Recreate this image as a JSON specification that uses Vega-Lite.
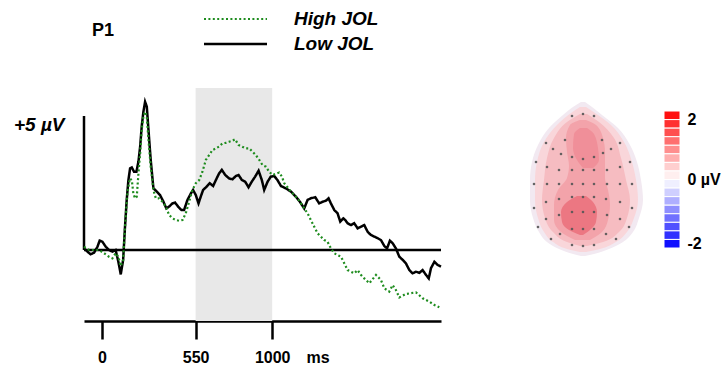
{
  "$schema": "https://vega.github.io/schema/vega-lite/v6.json",
  "padding": {"left": 13, "top": 9, "right": 0, "bottom": 0},
  "background": "white",
  "config": {"font": "Liberation Sans", "view": {"stroke": null}},
  "bounds": "flush",
  "spacing": 10,
  "resolve": {"scale": {"x": "independent", "y": "independent", "color": "independent", "fill": "independent", "strokeDash": "independent", "strokeWidth": "independent"}},
  "datasets": {
    "erp": [
      {"c": "Low JOL", "t": -106, "v": 0.06}, {"c": "Low JOL", "t": -86, "v": -0.06}, {"c": "Low JOL", "t": -67, "v": -0.16}, {"c": "Low JOL", "t": -47, "v": -0.10}, {"c": "Low JOL", "t": -27, "v": 0.12}, {"c": "Low JOL", "t": -14, "v": 0.35}, {"c": "Low JOL", "t": 2, "v": 0.31}, {"c": "Low JOL", "t": 22, "v": 0.12}, {"c": "Low JOL", "t": 41, "v": 0}, {"c": "Low JOL", "t": 61, "v": -0.06}, {"c": "Low JOL", "t": 80, "v": 0}, {"c": "Low JOL", "t": 96, "v": -0.44}, {"c": "Low JOL", "t": 110, "v": -0.91}, {"c": "Low JOL", "t": 124, "v": -0.37}, {"c": "Low JOL", "t": 135, "v": 0.87}, {"c": "Low JOL", "t": 145, "v": 1.87}, {"c": "Low JOL", "t": 155, "v": 2.61}, {"c": "Low JOL", "t": 165, "v": 3.05}, {"c": "Low JOL", "t": 175, "v": 3.08}, {"c": "Low JOL", "t": 188, "v": 2.92}, {"c": "Low JOL", "t": 202, "v": 2.92}, {"c": "Low JOL", "t": 214, "v": 3.30}, {"c": "Low JOL", "t": 224, "v": 3.86}, {"c": "Low JOL", "t": 233, "v": 4.60}, {"c": "Low JOL", "t": 243, "v": 5.16}, {"c": "Low JOL", "t": 253, "v": 5.53}, {"c": "Low JOL", "t": 263, "v": 5.35}, {"c": "Low JOL", "t": 273, "v": 4.48}, {"c": "Low JOL", "t": 286, "v": 3.36}, {"c": "Low JOL", "t": 302, "v": 2.30}, {"c": "Low JOL", "t": 322, "v": 2.18}, {"c": "Low JOL", "t": 341, "v": 2.05}, {"c": "Low JOL", "t": 361, "v": 1.80}, {"c": "Low JOL", "t": 378, "v": 1.55}, {"c": "Low JOL", "t": 394, "v": 1.62}, {"c": "Low JOL", "t": 414, "v": 1.74}, {"c": "Low JOL", "t": 429, "v": 1.77}, {"c": "Low JOL", "t": 447, "v": 1.62}, {"c": "Low JOL", "t": 467, "v": 1.49}, {"c": "Low JOL", "t": 482, "v": 1.49}, {"c": "Low JOL", "t": 502, "v": 1.87}, {"c": "Low JOL", "t": 522, "v": 2.11}, {"c": "Low JOL", "t": 535, "v": 2.24}, {"c": "Low JOL", "t": 551, "v": 2.05}, {"c": "Low JOL", "t": 567, "v": 1.74}, {"c": "Low JOL", "t": 580, "v": 1.99}, {"c": "Low JOL", "t": 594, "v": 2.24}, {"c": "Low JOL", "t": 614, "v": 2.36}, {"c": "Low JOL", "t": 633, "v": 2.49}, {"c": "Low JOL", "t": 653, "v": 2.39}, {"c": "Low JOL", "t": 669, "v": 2.61}, {"c": "Low JOL", "t": 688, "v": 2.86}, {"c": "Low JOL", "t": 704, "v": 2.99}, {"c": "Low JOL", "t": 724, "v": 2.80}, {"c": "Low JOL", "t": 747, "v": 2.67}, {"c": "Low JOL", "t": 767, "v": 2.64}, {"c": "Low JOL", "t": 786, "v": 2.76}, {"c": "Low JOL", "t": 802, "v": 2.80}, {"c": "Low JOL", "t": 822, "v": 2.61}, {"c": "Low JOL", "t": 841, "v": 2.55}, {"c": "Low JOL", "t": 861, "v": 2.34}, {"c": "Low JOL", "t": 880, "v": 2.55}, {"c": "Low JOL", "t": 900, "v": 2.74}, {"c": "Low JOL", "t": 920, "v": 2.96}, {"c": "Low JOL", "t": 939, "v": 2.61}, {"c": "Low JOL", "t": 953, "v": 2.24}, {"c": "Low JOL", "t": 973, "v": 2.55}, {"c": "Low JOL", "t": 992, "v": 2.74}, {"c": "Low JOL", "t": 1012, "v": 2.76}, {"c": "Low JOL", "t": 1031, "v": 2.61}, {"c": "Low JOL", "t": 1051, "v": 2.39}, {"c": "Low JOL", "t": 1080, "v": 2.30}, {"c": "Low JOL", "t": 1110, "v": 2.18}, {"c": "Low JOL", "t": 1139, "v": 1.99}, {"c": "Low JOL", "t": 1163, "v": 1.80}, {"c": "Low JOL", "t": 1188, "v": 1.55}, {"c": "Low JOL", "t": 1208, "v": 1.87}, {"c": "Low JOL", "t": 1227, "v": 1.93}, {"c": "Low JOL", "t": 1253, "v": 1.97}, {"c": "Low JOL", "t": 1276, "v": 1.74}, {"c": "Low JOL", "t": 1296, "v": 1.80}, {"c": "Low JOL", "t": 1316, "v": 1.84}, {"c": "Low JOL", "t": 1331, "v": 1.93}, {"c": "Low JOL", "t": 1345, "v": 1.74}, {"c": "Low JOL", "t": 1365, "v": 1.49}, {"c": "Low JOL", "t": 1384, "v": 1.37}, {"c": "Low JOL", "t": 1400, "v": 1.06}, {"c": "Low JOL", "t": 1418, "v": 1.18}, {"c": "Low JOL", "t": 1429, "v": 1.12}, {"c": "Low JOL", "t": 1443, "v": 1.00}, {"c": "Low JOL", "t": 1463, "v": 0.93}, {"c": "Low JOL", "t": 1482, "v": 1.00}, {"c": "Low JOL", "t": 1502, "v": 0.81}, {"c": "Low JOL", "t": 1522, "v": 0.87}, {"c": "Low JOL", "t": 1541, "v": 0.93}, {"c": "Low JOL", "t": 1561, "v": 0.68}, {"c": "Low JOL", "t": 1580, "v": 0.56}, {"c": "Low JOL", "t": 1600, "v": 0.50}, {"c": "Low JOL", "t": 1620, "v": 0.44}, {"c": "Low JOL", "t": 1639, "v": 0.37}, {"c": "Low JOL", "t": 1659, "v": 0.15}, {"c": "Low JOL", "t": 1675, "v": 0.06}, {"c": "Low JOL", "t": 1692, "v": 0.35}, {"c": "Low JOL", "t": 1708, "v": 0.25}, {"c": "Low JOL", "t": 1727, "v": 0.06}, {"c": "Low JOL", "t": 1747, "v": -0.25}, {"c": "Low JOL", "t": 1767, "v": -0.37}, {"c": "Low JOL", "t": 1786, "v": -0.50}, {"c": "Low JOL", "t": 1806, "v": -0.75}, {"c": "Low JOL", "t": 1825, "v": -0.87}, {"c": "Low JOL", "t": 1845, "v": -0.81}, {"c": "Low JOL", "t": 1865, "v": -0.85}, {"c": "Low JOL", "t": 1884, "v": -0.75}, {"c": "Low JOL", "t": 1904, "v": -0.93}, {"c": "Low JOL", "t": 1920, "v": -1.06}, {"c": "Low JOL", "t": 1933, "v": -0.68}, {"c": "Low JOL", "t": 1953, "v": -0.44}, {"c": "Low JOL", "t": 1973, "v": -0.56}, {"c": "Low JOL", "t": 1992, "v": -0.62},
      {"c": "High JOL", "t": -106, "v": 0.12}, {"c": "High JOL", "t": -76, "v": 0}, {"c": "High JOL", "t": -47, "v": 0}, {"c": "High JOL", "t": -18, "v": 0}, {"c": "High JOL", "t": 12, "v": -0.12}, {"c": "High JOL", "t": 41, "v": -0.25}, {"c": "High JOL", "t": 61, "v": -0.31}, {"c": "High JOL", "t": 80, "v": -0.12}, {"c": "High JOL", "t": 96, "v": -0.25}, {"c": "High JOL", "t": 110, "v": -0.6}, {"c": "High JOL", "t": 124, "v": -0.37}, {"c": "High JOL", "t": 135, "v": 0.87}, {"c": "High JOL", "t": 149, "v": 2.11}, {"c": "High JOL", "t": 163, "v": 2.67}, {"c": "High JOL", "t": 175, "v": 2.61}, {"c": "High JOL", "t": 184, "v": 2.11}, {"c": "High JOL", "t": 194, "v": 1.93}, {"c": "High JOL", "t": 204, "v": 1.99}, {"c": "High JOL", "t": 214, "v": 2.86}, {"c": "High JOL", "t": 224, "v": 3.61}, {"c": "High JOL", "t": 233, "v": 4.48}, {"c": "High JOL", "t": 243, "v": 4.98}, {"c": "High JOL", "t": 253, "v": 5.16}, {"c": "High JOL", "t": 263, "v": 4.98}, {"c": "High JOL", "t": 273, "v": 4.10}, {"c": "High JOL", "t": 286, "v": 3.11}, {"c": "High JOL", "t": 302, "v": 2.24}, {"c": "High JOL", "t": 316, "v": 1.93}, {"c": "High JOL", "t": 335, "v": 1.93}, {"c": "High JOL", "t": 355, "v": 1.80}, {"c": "High JOL", "t": 375, "v": 1.62}, {"c": "High JOL", "t": 394, "v": 1.31}, {"c": "High JOL", "t": 414, "v": 1.18}, {"c": "High JOL", "t": 433, "v": 1.12}, {"c": "High JOL", "t": 453, "v": 1.09}, {"c": "High JOL", "t": 473, "v": 1.12}, {"c": "High JOL", "t": 492, "v": 1.37}, {"c": "High JOL", "t": 512, "v": 1.80}, {"c": "High JOL", "t": 531, "v": 2.24}, {"c": "High JOL", "t": 551, "v": 2.49}, {"c": "High JOL", "t": 571, "v": 2.61}, {"c": "High JOL", "t": 590, "v": 2.92}, {"c": "High JOL", "t": 610, "v": 3.36}, {"c": "High JOL", "t": 629, "v": 3.54}, {"c": "High JOL", "t": 649, "v": 3.73}, {"c": "High JOL", "t": 669, "v": 3.79}, {"c": "High JOL", "t": 688, "v": 3.86}, {"c": "High JOL", "t": 708, "v": 3.98}, {"c": "High JOL", "t": 727, "v": 4.00}, {"c": "High JOL", "t": 747, "v": 4.04}, {"c": "High JOL", "t": 767, "v": 4.08}, {"c": "High JOL", "t": 782, "v": 4.13}, {"c": "High JOL", "t": 802, "v": 3.92}, {"c": "High JOL", "t": 822, "v": 3.86}, {"c": "High JOL", "t": 845, "v": 3.79}, {"c": "High JOL", "t": 865, "v": 3.79}, {"c": "High JOL", "t": 884, "v": 3.67}, {"c": "High JOL", "t": 904, "v": 3.54}, {"c": "High JOL", "t": 924, "v": 3.36}, {"c": "High JOL", "t": 943, "v": 3.17}, {"c": "High JOL", "t": 963, "v": 3.11}, {"c": "High JOL", "t": 982, "v": 2.92}, {"c": "High JOL", "t": 1002, "v": 2.80}, {"c": "High JOL", "t": 1022, "v": 2.84}, {"c": "High JOL", "t": 1041, "v": 2.89}, {"c": "High JOL", "t": 1057, "v": 2.74}, {"c": "High JOL", "t": 1071, "v": 2.49}, {"c": "High JOL", "t": 1090, "v": 2.34}, {"c": "High JOL", "t": 1110, "v": 2.18}, {"c": "High JOL", "t": 1129, "v": 2.05}, {"c": "High JOL", "t": 1149, "v": 1.93}, {"c": "High JOL", "t": 1169, "v": 1.74}, {"c": "High JOL", "t": 1188, "v": 1.55}, {"c": "High JOL", "t": 1208, "v": 1.37}, {"c": "High JOL", "t": 1227, "v": 1.12}, {"c": "High JOL", "t": 1247, "v": 0.87}, {"c": "High JOL", "t": 1267, "v": 0.62}, {"c": "High JOL", "t": 1286, "v": 0.50}, {"c": "High JOL", "t": 1306, "v": 0.37}, {"c": "High JOL", "t": 1325, "v": 0.31}, {"c": "High JOL", "t": 1345, "v": 0.06}, {"c": "High JOL", "t": 1365, "v": -0.12}, {"c": "High JOL", "t": 1384, "v": -0.19}, {"c": "High JOL", "t": 1404, "v": -0.25}, {"c": "High JOL", "t": 1424, "v": -0.50}, {"c": "High JOL", "t": 1443, "v": -0.75}, {"c": "High JOL", "t": 1463, "v": -0.81}, {"c": "High JOL", "t": 1482, "v": -0.87}, {"c": "High JOL", "t": 1502, "v": -0.75}, {"c": "High JOL", "t": 1522, "v": -0.93}, {"c": "High JOL", "t": 1541, "v": -1.06}, {"c": "High JOL", "t": 1571, "v": -1.24}, {"c": "High JOL", "t": 1610, "v": -0.93}, {"c": "High JOL", "t": 1639, "v": -1.12}, {"c": "High JOL", "t": 1659, "v": -1.43}, {"c": "High JOL", "t": 1688, "v": -1.55}, {"c": "High JOL", "t": 1708, "v": -1.31}, {"c": "High JOL", "t": 1727, "v": -1.49}, {"c": "High JOL", "t": 1747, "v": -1.77}, {"c": "High JOL", "t": 1786, "v": -1.64}, {"c": "High JOL", "t": 1845, "v": -1.58}, {"c": "High JOL", "t": 1884, "v": -1.80}, {"c": "High JOL", "t": 1924, "v": -1.93}, {"c": "High JOL", "t": 1953, "v": -2.05}, {"c": "High JOL", "t": 1982, "v": -2.14}
    ],
    "head": [
      {"g": "h0", "lvl": "L0", "hy": 78, "xl": -2, "xr": 2}, {"g": "h0", "lvl": "L0", "hy": 73, "xl": -10, "xr": 9}, {"g": "h0", "lvl": "L0", "hy": 65, "xl": -20, "xr": 19}, {"g": "h0", "lvl": "L0", "hy": 52, "xl": -34, "xr": 35}, {"g": "h0", "lvl": "L0", "hy": 35, "xl": -45, "xr": 47}, {"g": "h0", "lvl": "L0", "hy": 18, "xl": -51, "xr": 54}, {"g": "h0", "lvl": "L0", "hy": 0, "xl": -53, "xr": 58}, {"g": "h0", "lvl": "L0", "hy": -20, "xl": -53, "xr": 60}, {"g": "h0", "lvl": "L0", "hy": -38, "xl": -50, "xr": 56}, {"g": "h0", "lvl": "L0", "hy": -52, "xl": -44, "xr": 50}, {"g": "h0", "lvl": "L0", "hy": -62, "xl": -36, "xr": 40}, {"g": "h0", "lvl": "L0", "hy": -69, "xl": -24, "xr": 26}, {"g": "h0", "lvl": "L0", "hy": -74, "xl": -10, "xr": 11}, {"g": "h0", "lvl": "L0", "hy": -76, "xl": -2, "xr": 2},
      {"g": "h1", "lvl": "L1", "hy": 73, "xl": -3, "xr": 3}, {"g": "h1", "lvl": "L1", "hy": 67, "xl": -12, "xr": 12}, {"g": "h1", "lvl": "L1", "hy": 55, "xl": -26, "xr": 28}, {"g": "h1", "lvl": "L1", "hy": 38, "xl": -39, "xr": 41}, {"g": "h1", "lvl": "L1", "hy": 18, "xl": -46, "xr": 49}, {"g": "h1", "lvl": "L1", "hy": 0, "xl": -48, "xr": 53}, {"g": "h1", "lvl": "L1", "hy": -20, "xl": -48, "xr": 55}, {"g": "h1", "lvl": "L1", "hy": -38, "xl": -45, "xr": 51}, {"g": "h1", "lvl": "L1", "hy": -52, "xl": -39, "xr": 44}, {"g": "h1", "lvl": "L1", "hy": -62, "xl": -30, "xr": 33}, {"g": "h1", "lvl": "L1", "hy": -69, "xl": -16, "xr": 17}, {"g": "h1", "lvl": "L1", "hy": -72, "xl": -3, "xr": 3},
      {"g": "h2", "lvl": "L2", "hy": 66, "xl": -3, "xr": 4}, {"g": "h2", "lvl": "L2", "hy": 58, "xl": -16, "xr": 16}, {"g": "h2", "lvl": "L2", "hy": 42, "xl": -29, "xr": 31}, {"g": "h2", "lvl": "L2", "hy": 22, "xl": -36, "xr": 38}, {"g": "h2", "lvl": "L2", "hy": 0, "xl": -39, "xr": 43}, {"g": "h2", "lvl": "L2", "hy": -20, "xl": -41, "xr": 47}, {"g": "h2", "lvl": "L2", "hy": -38, "xl": -38, "xr": 44}, {"g": "h2", "lvl": "L2", "hy": -52, "xl": -30, "xr": 36}, {"g": "h2", "lvl": "L2", "hy": -62, "xl": -16, "xr": 20}, {"g": "h2", "lvl": "L2", "hy": -66, "xl": -3, "xr": 4},
      {"g": "h3", "lvl": "L3", "hy": 60, "xl": -3, "xr": 3}, {"g": "h3", "lvl": "L3", "hy": 55, "xl": -13, "xr": 13}, {"g": "h3", "lvl": "L3", "hy": 42, "xl": -17, "xr": 20}, {"g": "h3", "lvl": "L3", "hy": 28, "xl": -16, "xr": 22}, {"g": "h3", "lvl": "L3", "hy": 14, "xl": -14, "xr": 22}, {"g": "h3", "lvl": "L3", "hy": 2, "xl": -16, "xr": 22}, {"g": "h3", "lvl": "L3", "hy": -10, "xl": -25, "xr": 25}, {"g": "h3", "lvl": "L3", "hy": -25, "xl": -29, "xr": 27}, {"g": "h3", "lvl": "L3", "hy": -40, "xl": -29, "xr": 25}, {"g": "h3", "lvl": "L3", "hy": -52, "xl": -22, "xr": 19}, {"g": "h3", "lvl": "L3", "hy": -60, "xl": -8, "xr": 7},
      {"g": "h4a", "lvl": "L4", "hy": 52, "xl": -3, "xr": 4}, {"g": "h4a", "lvl": "L4", "hy": 46, "xl": -9, "xr": 11}, {"g": "h4a", "lvl": "L4", "hy": 32, "xl": -10, "xr": 15}, {"g": "h4a", "lvl": "L4", "hy": 20, "xl": -6, "xr": 16}, {"g": "h4a", "lvl": "L4", "hy": 12, "xl": 0, "xr": 10},
      {"g": "h4b", "lvl": "L5", "hy": -16, "xl": -6, "xr": 3}, {"g": "h4b", "lvl": "L5", "hy": -22, "xl": -16, "xr": 10}, {"g": "h4b", "lvl": "L5", "hy": -32, "xl": -22, "xr": 14}, {"g": "h4b", "lvl": "L5", "hy": -42, "xl": -21, "xr": 13}, {"g": "h4b", "lvl": "L5", "hy": -50, "xl": -14, "xr": 7}, {"g": "h4b", "lvl": "L5", "hy": -55, "xl": -3, "xr": 0}
    ],
    "elec": [
      {"ex": -11, "ey": 64}, {"ex": 0, "ey": 66}, {"ex": 11, "ey": 64},
      {"ex": -37, "ey": 37}, {"ex": -18, "ey": 40}, {"ex": 19, "ey": 40}, {"ex": 37, "ey": 37},
      {"ex": -30, "ey": 31}, {"ex": 28, "ey": 31},
      {"ex": -22, "ey": 26}, {"ex": 20, "ey": 27},
      {"ex": -11, "ey": 23}, {"ex": 0, "ey": 21}, {"ex": 11, "ey": 23},
      {"ex": -47, "ey": 18}, {"ex": 47, "ey": 18},
      {"ex": -36, "ey": 13}, {"ex": -24, "ey": 10}, {"ex": -11, "ey": 10}, {"ex": 0, "ey": 10}, {"ex": 11, "ey": 10}, {"ex": 24, "ey": 10}, {"ex": 37, "ey": 13},
      {"ex": -49, "ey": -4}, {"ex": -36, "ey": -4}, {"ex": -24, "ey": -4}, {"ex": -11, "ey": -4}, {"ex": 0, "ey": -4}, {"ex": 11, "ey": -4}, {"ex": 24, "ey": -4}, {"ex": 37, "ey": -4}, {"ex": 49, "ey": -4},
      {"ex": -37, "ey": -22}, {"ex": -24, "ey": -19}, {"ex": -11, "ey": -17}, {"ex": 0, "ey": -17}, {"ex": 11, "ey": -17}, {"ex": 23, "ey": -19}, {"ex": 37, "ey": -22},
      {"ex": -49, "ey": -28}, {"ex": 49, "ey": -28},
      {"ex": -24, "ey": -35}, {"ex": -11, "ey": -32}, {"ex": 0, "ey": -32}, {"ex": 11, "ey": -32}, {"ex": 24, "ey": -35},
      {"ex": -37, "ey": -39}, {"ex": 37, "ey": -39},
      {"ex": -45, "ey": -47}, {"ex": 46, "ey": -47},
      {"ex": -11, "ey": -49}, {"ex": 0, "ey": -49}, {"ex": 11, "ey": -49}, {"ex": -23, "ey": -54}, {"ex": 23, "ey": -54},
      {"ex": -32, "ey": -59}, {"ex": 33, "ey": -59},
      {"ex": -11, "ey": -65}, {"ex": 0, "ey": -66}, {"ex": 11, "ey": -65}
    ],
    "cbar": [
      {"hi": 2, "lo": 1.75, "mid": 1.875}, {"hi": 1.75, "lo": 1.5, "mid": 1.625}, {"hi": 1.5, "lo": 1.25, "mid": 1.375}, {"hi": 1.25, "lo": 1, "mid": 1.125},
      {"hi": 1, "lo": 0.75, "mid": 0.875}, {"hi": 0.75, "lo": 0.5, "mid": 0.625}, {"hi": 0.5, "lo": 0.25, "mid": 0.375}, {"hi": 0.25, "lo": 0, "mid": 0.125},
      {"hi": 0, "lo": -0.25, "mid": -0.125}, {"hi": -0.25, "lo": -0.5, "mid": -0.375}, {"hi": -0.5, "lo": -0.75, "mid": -0.625}, {"hi": -0.75, "lo": -1, "mid": -0.875},
      {"hi": -1, "lo": -1.25, "mid": -1.125}, {"hi": -1.25, "lo": -1.5, "mid": -1.375}, {"hi": -1.5, "lo": -1.75, "mid": -1.625}, {"hi": -1.75, "lo": -2, "mid": -1.875}
    ]
  },
  "hconcat": [
    {
      "width": 357,
      "height": 233,
      "title": {"text": "P1", "anchor": "start", "frame": "group", "dx": 8, "offset": -31, "fontSize": 18, "fontWeight": "bold", "color": "black"},
      "layer": [
        {
          "data": {"values": [{"t": 550, "t2": 1000}]},
          "mark": {"type": "rect", "color": "#e8e8e8"},
          "encoding": {
            "x": {"field": "t", "type": "quantitative", "scale": {"domain": [-106, 1992], "nice": false, "zero": false},
              "axis": {"values": [0, 550, 1000], "format": "d", "title": "ms", "titleX": 233.5, "titleY": 28, "titleAlign": "center", "titleBaseline": "top", "titleFontSize": 16, "titleFontWeight": "bold", "titleColor": "black", "labelFontSize": 16, "labelFontWeight": "bold", "labelColor": "black", "labelPadding": 10, "labelBaseline": "top", "tickSize": 18, "tickWidth": 2.5, "tickColor": "black", "domainColor": "black", "domainWidth": 2.5, "grid": false, "labelFlush": false}},
            "x2": {"field": "t2"}
          }
        },
        {
          "data": {"values": [{"v": 0}]},
          "mark": {"type": "rule", "color": "black", "strokeWidth": 2.5},
          "encoding": {
            "y": {"field": "v", "type": "quantitative", "scale": {"domain": [-2.649, 6.045], "nice": false, "zero": false},
              "axis": {"values": [5], "labelExpr": "'+5 µV'", "ticks": false, "domain": false, "grid": false, "title": null, "labelFontSize": 19, "labelFontWeight": "bold", "labelFontStyle": "italic", "labelColor": "black", "labelPadding": 20, "labelOffset": 8}}
          }
        },
        {
          "data": {"values": [{"t": -106, "v": 0, "v2": 5}]},
          "mark": {"type": "rule", "color": "black", "strokeWidth": 2.5},
          "encoding": {
            "x": {"field": "t", "type": "quantitative", "scale": {"domain": [-106, 1992], "nice": false, "zero": false},
              "axis": {"values": [0, 550, 1000], "format": "d", "title": "ms", "titleX": 233.5, "titleY": 28, "titleAlign": "center", "titleBaseline": "top", "titleFontSize": 16, "titleFontWeight": "bold", "titleColor": "black", "labelFontSize": 16, "labelFontWeight": "bold", "labelColor": "black", "labelPadding": 10, "labelBaseline": "top", "tickSize": 18, "tickWidth": 2.5, "tickColor": "black", "domainColor": "black", "domainWidth": 2.5, "grid": false, "labelFlush": false}},
            "y": {"field": "v", "type": "quantitative", "scale": {"domain": [-2.649, 6.045], "nice": false, "zero": false},
              "axis": {"values": [5], "labelExpr": "'+5 µV'", "ticks": false, "domain": false, "grid": false, "title": null, "labelFontSize": 19, "labelFontWeight": "bold", "labelFontStyle": "italic", "labelColor": "black", "labelPadding": 20, "labelOffset": 8}},
            "y2": {"field": "v2"}
          }
        },
        {
          "data": {"name": "erp"},
          "mark": {"type": "line", "strokeCap": "butt"},
          "encoding": {
            "x": {"field": "t", "type": "quantitative", "scale": {"domain": [-106, 1992], "nice": false, "zero": false},
              "axis": {"values": [0, 550, 1000], "format": "d", "title": "ms", "titleX": 233.5, "titleY": 28, "titleAlign": "center", "titleBaseline": "top", "titleFontSize": 16, "titleFontWeight": "bold", "titleColor": "black", "labelFontSize": 16, "labelFontWeight": "bold", "labelColor": "black", "labelPadding": 10, "labelBaseline": "top", "tickSize": 18, "tickWidth": 2.5, "tickColor": "black", "domainColor": "black", "domainWidth": 2.5, "grid": false, "labelFlush": false}},
            "y": {"field": "v", "type": "quantitative", "scale": {"domain": [-2.649, 6.045], "nice": false, "zero": false},
              "axis": {"values": [5], "labelExpr": "'+5 µV'", "ticks": false, "domain": false, "grid": false, "title": null, "labelFontSize": 19, "labelFontWeight": "bold", "labelFontStyle": "italic", "labelColor": "black", "labelPadding": 20, "labelOffset": 8}},
            "color": {"field": "c", "type": "nominal", "scale": {"domain": ["High JOL", "Low JOL"], "range": ["#1e8c1e", "#000000"]},
              "legend": {"orient": "none", "legendX": 118.5, "legendY": -79, "title": null, "symbolType": "stroke", "symbolSize": 3969, "symbolStrokeWidth": 2.5, "clipHeight": 20, "labelOffset": 25.5, "labelFontSize": 19, "labelFontWeight": "bold", "labelFontStyle": "italic", "labelColor": "black", "rowPadding": 5, "padding": 0}},
            "strokeDash": {"field": "c", "type": "nominal", "scale": {"domain": ["High JOL", "Low JOL"], "range": [[2, 2.4], [1, 0]]}},
            "strokeWidth": {"field": "c", "type": "nominal", "scale": {"domain": ["High JOL", "Low JOL"], "range": [2.2, 2.5]}, "legend": null}
          }
        }
      ]
    },
    {
      "width": 203,
      "height": 233,
      "layer": [
        {
          "data": {"name": "head"},
          "mark": {"type": "area", "orient": "horizontal", "interpolate": "monotone"},
          "encoding": {
            "y": {"field": "hy", "type": "quantitative", "scale": {"domain": [-141, 92], "nice": false, "zero": false}, "axis": null},
            "x": {"field": "xl", "type": "quantitative", "stack": null, "scale": {"domain": [-132, 71], "nice": false, "zero": false}, "axis": null},
            "x2": {"field": "xr"},
            "fill": {"field": "lvl", "type": "nominal", "scale": {"domain": ["L0", "L1", "L2", "L3", "L4", "L5"], "range": ["#f2e9f1", "#f9d6da", "#f6bcc1", "#f3a3aa", "#f08f99", "#ec7782"]}, "legend": null},
            "detail": {"field": "g"}
          }
        },
        {
          "data": {"name": "elec"},
          "mark": {"type": "circle", "size": 7, "color": "#555555", "opacity": 0.9},
          "encoding": {
            "x": {"field": "ex", "type": "quantitative", "scale": {"domain": [-132, 71], "nice": false, "zero": false}, "axis": null},
            "y": {"field": "ey", "type": "quantitative", "scale": {"domain": [-141, 92], "nice": false, "zero": false}, "axis": null}
          }
        }
      ]
    },
    {
      "width": 16,
      "height": 233,
      "data": {"name": "cbar"},
      "mark": {"type": "rect", "stroke": "white", "strokeWidth": 1},
      "encoding": {
        "y": {"field": "hi", "type": "quantitative", "scale": {"domain": [-4.131, 2.672], "nice": false, "zero": false},
          "axis": {"orient": "right", "values": [2, 0, -2], "labelExpr": "datum.value == 0 ? '0 µV' : datum.value == -2 ? '-2' : '2'", "ticks": false, "domain": false, "grid": false, "title": null, "labelFontSize": 16, "labelFontWeight": "bold", "labelColor": "black", "labelPadding": 7, "labelAlign": "left",
            "labelBaseline": {"condition": [{"test": "datum.value == 2", "value": "top"}, {"test": "datum.value == -2", "value": "alphabetic"}], "value": "middle"}}},
        "y2": {"field": "lo"},
        "fill": {"field": "mid", "type": "quantitative", "scale": {"domain": [-2, 0, 2], "range": ["#0000ff", "#ffffff", "#ff0000"], "interpolate": "rgb"}, "legend": null}
      }
    }
  ]
}
